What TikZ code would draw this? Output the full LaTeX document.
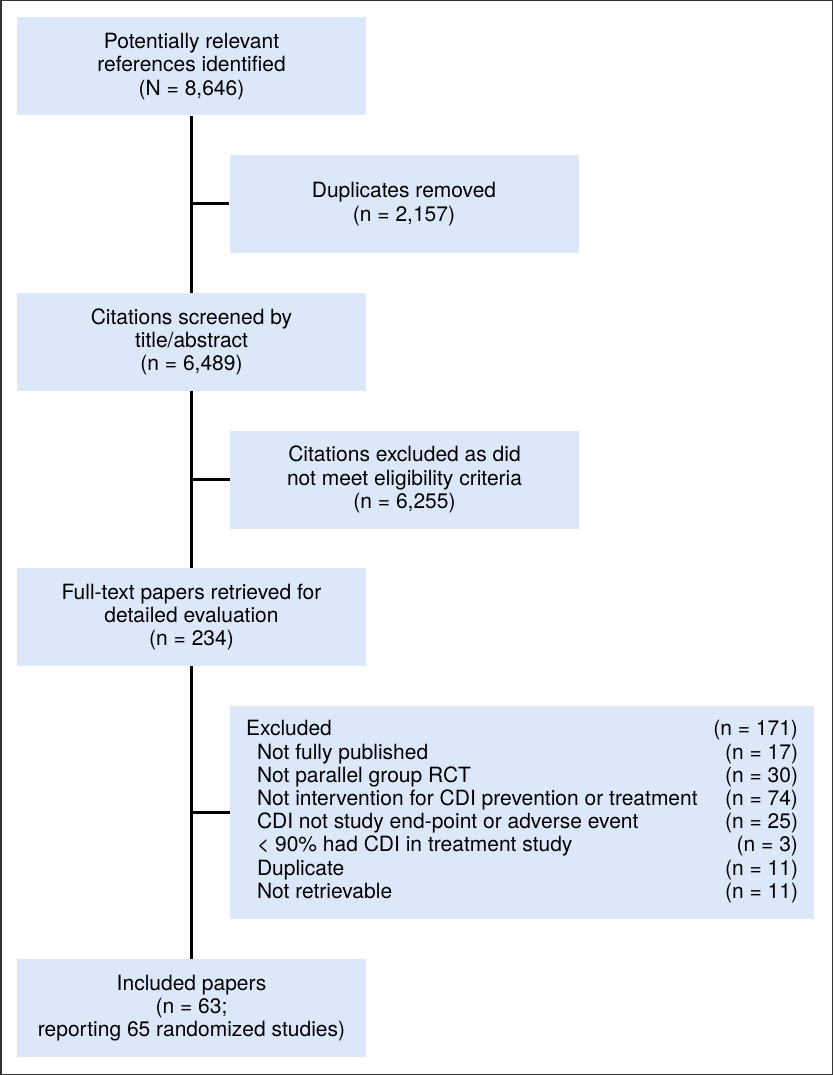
\documentclass[tikz,border=0pt]{standalone}
\usepackage{fontspec}
\setmainfont{TeX Gyre Heros}
\definecolor{boxblue}{RGB}{220,232,250}

\begin{document}
\begin{tikzpicture}[x=1pt, y=-1pt,
  box/.style={fill=boxblue, minimum width=349pt, minimum height=98pt,
    inner sep=0pt, align=center, font=\fontsize{21}{23.2}\selectfont},
  link/.style={line width=3pt}]

\useasboundingbox (0,0) rectangle (833,1075);
\draw[line width=1.5pt, black!80] (0.75,0.75) rectangle (832.25,1074.25);

% main column
\node[box] (refs) at (191.5,66.5) {Potentially relevant\\references identified\\(N = 8,646)};
\node[box] (screen) at (191.5,342) {Citations screened by\\title/abstract\\(n = 6,489)};
\node[box] (full) at (191.5,617) {Full-text papers retrieved for\\detailed evaluation\\(n = 234)};
\node[box] (incl) at (191.5,1008) {Included papers\\(n = 63;\\reporting 65 randomized studies)};

% side boxes
\node[box] (dups) at (404,204) {Duplicates removed\\(n = 2,157)};
\node[box] (crit) at (404.5,479.5) {Citations excluded as did\\not meet eligibility criteria\\(n = 6,255)};
\node[box, minimum width=584pt, minimum height=213pt, inner xsep=16pt] (excl) at (522,812.5) {%
  \begin{tabular*}{552pt}{@{}l@{\extracolsep{\fill}}r@{}}
  Excluded & (n = 171)\\
  \hspace{11pt}Not fully published & (n = 17)\\
  \hspace{11pt}Not parallel group RCT & (n = 30)\\
  \hspace{11pt}Not intervention for CDI prevention or treatment & (n = 74)\\
  \hspace{11pt}CDI not study end-point or adverse event & (n = 25)\\
  \hspace{11pt}< 90\% had CDI in treatment study & (n = 3)\\
  \hspace{11pt}Duplicate & (n = 11)\\
  \hspace{11pt}Not retrievable & (n = 11)
  \end{tabular*}};

\draw[link] (refs.south) -- (screen.north);
\draw[link] (screen.south) -- (full.north);
\draw[link] (full.south) -- (incl.north);

\draw[link] (dups.west -| refs.south) -- (dups.west);
\draw[link] (crit.west -| screen.south) -- (crit.west);
\draw[link] (excl.west -| full.south) -- (excl.west);

\end{tikzpicture}
\end{document}
